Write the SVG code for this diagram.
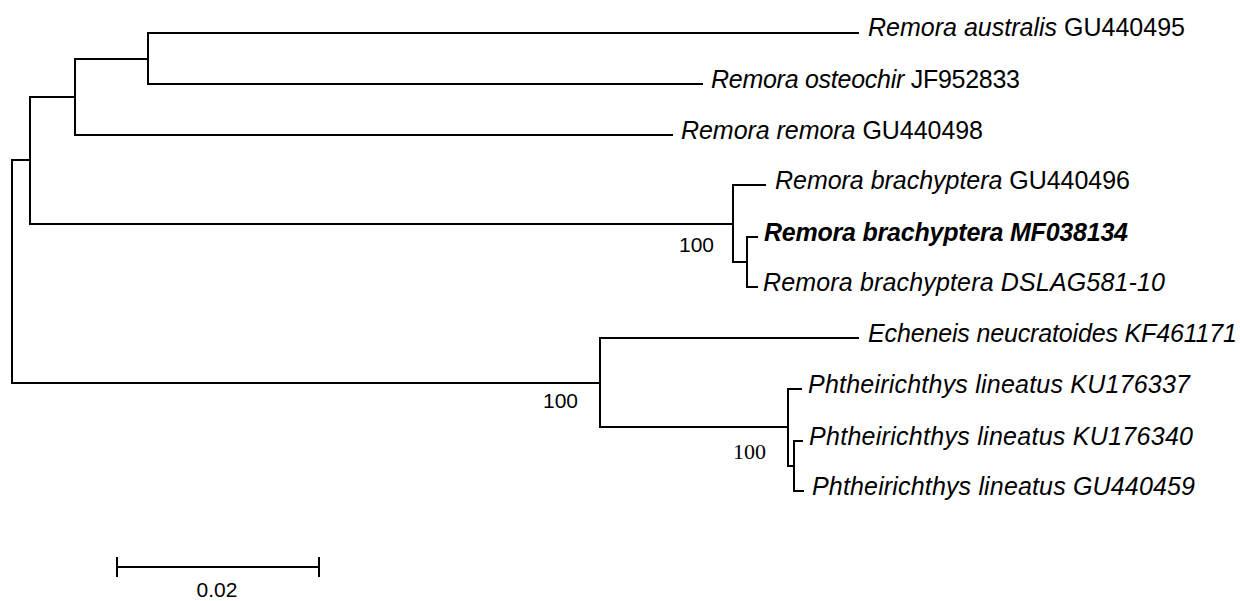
<svg xmlns="http://www.w3.org/2000/svg" width="1240" height="601" viewBox="0 0 1240 601">
<style>
.br{fill:none;stroke:#000;stroke-width:2;stroke-linecap:square}
.lab{font-family:"Liberation Sans",Arial,sans-serif;font-size:25px;fill:#000}
.it{font-style:italic}
.bd{font-weight:bold;font-style:italic}
.bs{font-family:"Liberation Sans",Arial,sans-serif;font-size:21px;fill:#000}
.bss{font-family:"Liberation Serif","Times New Roman",serif;font-size:22px;fill:#000}
</style>
<rect width="1240" height="601" fill="#fff"/>
<g id="connectors">
<path class="br" d="M12,160 V383 M12,160 H30 M30,97 V224 M30,97 H75 M75,59 V135 M75,59 H148 M148,33 V84 M148,33 H858 M148,84 H702 M75,135 H672"/>
<path class="br" d="M30,224 H733 M733,185 V262 M733,185 H765 M733,262 H747 M747,237 V287 M747,237 H757 M747,287 H757"/>
<path class="br" d="M12,383 H600 M600,338 V427 M600,338 H858 M600,427 H788 M788,389 V466 M788,389 H801 M788,466 H794 M794,441 V491 M794,441 H802 M794,491 H803"/>
</g>
<g id="leaf-australis"><text class="lab" x="868" y="36" textLength="317" lengthAdjust="spacing"><tspan class="it">Remora australis</tspan> GU440495</text></g>
<g id="leaf-osteochir"><text class="lab" x="711" y="88" textLength="309" lengthAdjust="spacing"><tspan class="it">Remora osteochir</tspan> JF952833</text></g>
<g id="leaf-remora"><text class="lab" x="681" y="139" textLength="302" lengthAdjust="spacing"><tspan class="it">Remora remora</tspan> GU440498</text></g>
<g id="leaf-brachyptera-gu"><text class="lab" x="775" y="189" textLength="355" lengthAdjust="spacing"><tspan class="it">Remora brachyptera</tspan> GU440496</text></g>
<g id="leaf-brachyptera-mf"><text class="lab bd" x="764" y="241" textLength="364" lengthAdjust="spacing">Remora brachyptera MF038134</text></g>
<g id="leaf-brachyptera-dslag"><text class="lab it" x="763" y="291" textLength="402" lengthAdjust="spacing">Remora brachyptera DSLAG581-10</text></g>
<g id="leaf-echeneis"><text class="lab it" x="868" y="342" textLength="369" lengthAdjust="spacing">Echeneis neucratoides KF461171</text></g>
<g id="leaf-phth-337"><text class="lab it" x="808" y="393" textLength="382" lengthAdjust="spacing">Phtheirichthys lineatus KU176337</text></g>
<g id="leaf-phth-340"><text class="lab it" x="809" y="445" textLength="384" lengthAdjust="spacing">Phtheirichthys lineatus KU176340</text></g>
<g id="leaf-phth-459"><text class="lab it" x="812" y="495" textLength="383" lengthAdjust="spacing">Phtheirichthys lineatus GU440459</text></g>
<g id="support-labels">
<text class="bs" x="679" y="252">100</text>
<text class="bs" x="543" y="408">100</text>
<text class="bss" x="733" y="459">100</text>
</g>
<g id="scale-bar">
<path class="br" d="M117,567 H319 M117,558 V576 M319,558 V576"/>
<text class="bs" x="217" y="597" text-anchor="middle">0.02</text>
</g>
</svg>
